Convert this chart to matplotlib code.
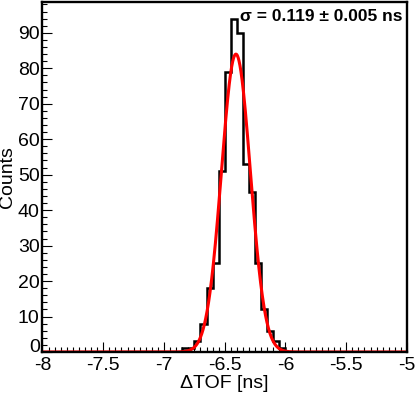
import numpy as np
import matplotlib
matplotlib.use('Agg')
import matplotlib.pyplot as plt
from matplotlib.ticker import MultipleLocator

plt.rcParams['font.family'] = ['Liberation Sans', 'DejaVu Sans']

# histogram: 60 bins of 0.05 ns from -8 to -5, only the filled ones listed
x_min, x_max, n_bins = -8.0, -5.0, 60
first_edge = -6.85
counts = [1, 1, 3, 8, 18, 25, 51, 79, 94, 90, 53, 45, 25, 12, 6, 3, 1]

# gaussian fit
fit_amp = 84.0
fit_mean = -6.408
fit_sigma = 0.119
fit_sigma_err = 0.005

edges = np.linspace(x_min, x_max, n_bins + 1)
values = np.zeros(n_bins)
i0 = int(round((first_edge - x_min) / (edges[1] - edges[0])))
values[i0:i0 + len(counts)] = counts

fig = plt.figure(figsize=(4.15, 3.97), dpi=100)
ax = fig.add_axes([0.1024, 0.1134, 0.8783, 0.8816])

ax.stairs(values, edges, color='black', linewidth=1.8, baseline=0)

xf = np.linspace(x_min, x_max, 1500)
yf = fit_amp * np.exp(-0.5 * ((xf - fit_mean) / fit_sigma) ** 2)
ax.plot(xf, yf, color='#ff0000', linewidth=2.2)

ax.set_xlim(x_min, x_max)
ax.set_ylim(0, 1.05 * max(counts))

xt = np.arange(x_min, x_max + 0.01, 0.5)
ax.set_xticks(xt)
ax.set_xticklabels(['%g' % v for v in xt])
ax.xaxis.set_minor_locator(MultipleLocator(0.05))
yt = np.arange(0, 91, 10)
ax.set_yticks(yt)
ax.yaxis.set_minor_locator(MultipleLocator(2))

ax.tick_params(which='major', direction='in', length=7.5, width=0.8,
               labelsize=14, pad=2)
ax.tick_params(axis='x', which='major', pad=3.5)
ax.tick_params(which='minor', direction='in', length=3.8, width=0.8)
for s in ax.spines.values():
    s.set_linewidth(1.7)

# keep the "0" just above the "-8" instead of on top of it
ax.yaxis.get_major_ticks()[0].label1.set_verticalalignment('baseline')

ax.set_xlabel('ΔTOF [ns]', fontsize=14, labelpad=1)
ax.set_ylabel('Counts', fontsize=14, labelpad=1)

ax.text(0.989, 0.959,
        'σ = %.3f ± %.3f ns' % (fit_sigma, fit_sigma_err),
        transform=ax.transAxes, ha='right', va='center',
        fontsize=12.5, fontweight='bold')

fig.savefig('out.png', dpi=100)
